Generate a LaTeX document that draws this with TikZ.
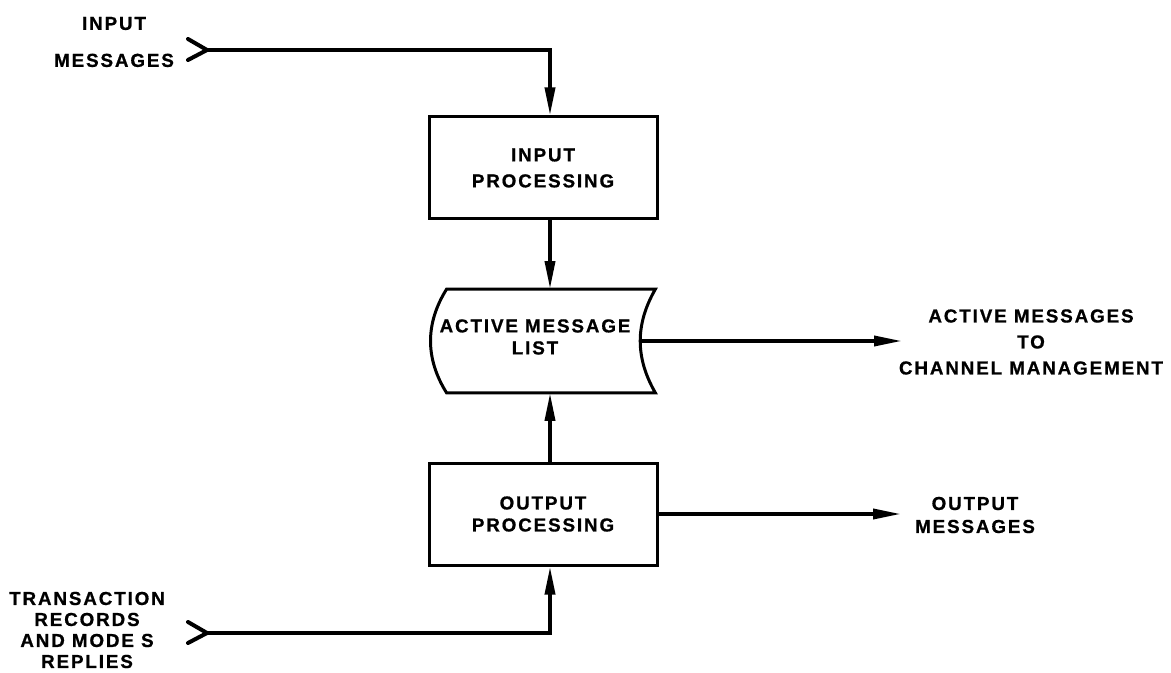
\documentclass[tikz,border=0pt]{standalone}
\usepackage{fontspec}
\usepackage{tikz}
\usetikzlibrary{arrows.meta,calc}
\newfontfamily\diafont{Liberation Sans}[LetterSpace=10,BoldFeatures={FakeBold=0.8}]
\tikzstyle{pb}=[rectangle,draw=black,line width=1.5pt,minimum width=114pt,
  minimum height=51pt,align=center,inner sep=2pt]
\tikzstyle{ls}=[rectangle,minimum width=104pt,minimum height=51.5pt,
  align=center,inner sep=2pt,text height=13.5pt]
\tikzstyle{lbl}=[align=center,inner sep=0pt]
\tikzstyle{flow}=[line width=1.8pt,-{Triangle[length=14pt,width=5pt]}]
\tikzstyle{wire}=[line width=2pt,line cap=round,line join=round]
\tikzstyle{none}=[]

\begin{document}
\begin{tikzpicture}[x=0.5pt, y=-0.5pt,
    every node/.style={font=\diafont\bfseries\fontsize{9.4}{13}\selectfont}]
        \useasboundingbox (0,0) rectangle (1171,673);
        \node [style=pb] (0) at (543,168) {INPUT\\PROCESSING};
        \node [style=lbl] (1) at (114,42) {INPUT\\[5.5pt]MESSAGES};
        \node [style=ls] (2) at (535,341) {ACTIVE MESSAGE\\[-2pt]LIST};
        \node [style=lbl] (3) at (1031,342) {ACTIVE MESSAGES\\TO\\CHANNEL MANAGEMENT};
        \node [style=pb] (4) at (543,514) {OUTPUT\\[-2pt]PROCESSING};
        \node [style=lbl] (6) at (975,515) {OUTPUT\\[-1.5pt]MESSAGES};
        \node [style=lbl] (10) at (87,630) {TRANSACTION\\[-2.5pt]RECORDS\\[-2.5pt]AND MODE S\\[-2.5pt]REPLIES};
        \coordinate (5) at (207,50);
        \coordinate (7) at (902,341);
        \coordinate (8) at (901,514);
        \coordinate (9) at (207,633);
        \draw [line width=1.5pt] ([xshift=8pt]2.north west) to [bend right=32] ([xshift=8pt]2.south west)
            -- ([xshift=8pt]2.south east) to [bend left=30] ([xshift=8pt]2.north east) -- cycle;
        \draw [style=wire] (5) +(-19,-11) -- (5) -- +(-19,10);
        \draw [style=wire] (9) +(-19,-11) -- (9) -- +(-19,10);
        \draw [style=flow] (5) -| ([xshift=3.5pt]0.north);
        \draw [style=flow] ([xshift=3.5pt]0.south) -- ([xshift=3.5pt]0.south |- 2.north);
        \draw [style=flow] ([xshift=3.5pt]4.north) -- ([xshift=3.5pt]4.north |- 2.south);
        \draw [style=flow] (9) -| ([xshift=3.5pt]4.south);
        \draw [style=flow] (2.east) -- (7);
        \draw [style=flow] (4.east) -- (8);
    \end{tikzpicture}
\end{document}
